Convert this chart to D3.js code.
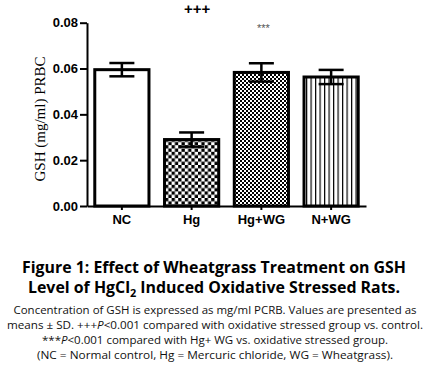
<!DOCTYPE html>
<html>
<head>
<meta charset="utf-8">
<script src="https://cdn.jsdelivr.net/npm/d3@7"></script>
<style>
  body { margin: 0; background: #fff; }
  svg { display: block; }
</style>
</head>
<body>
<svg id="chart" width="430" height="371"></svg>
<script>
// ── data ────────────────────────────────────────────────────────────────────
const groups = ['NC', 'Hg', 'Hg+WG', 'N+WG'];
const means  = [0.0595, 0.029, 0.0583, 0.0563];
const sds    = [0.0029, 0.0031, 0.0040, 0.0031];
const fills  = ['white', 'url(#checkBig)', 'url(#checkSmall)', 'url(#vlines)'];
const yTicks = [0, 0.02, 0.04, 0.06, 0.08];
const marks  = [{ group: 'Hg', text: '+++', value: 0.0838 }, { group: 'Hg+WG', text: '***', value: 0.0760 }];

const svg = d3.select('#chart');

// ── patterns ────────────────────────────────────────────────────────────────
const defs = svg.append('defs');
function checker(id, s) {
  const p = defs.append('pattern').attr('id', id).attr('patternUnits', 'userSpaceOnUse')
    .attr('width', s * 2).attr('height', s * 2);
  p.append('rect').attr('width', s * 2).attr('height', s * 2).attr('fill', 'white');
  p.append('rect').attr('width', s).attr('height', s).attr('fill', 'black');
  p.append('rect').attr('x', s).attr('y', s).attr('width', s).attr('height', s).attr('fill', 'black');
}
checker('checkBig', 3.3);
checker('checkSmall', 2);
const vl = defs.append('pattern').attr('id', 'vlines').attr('patternUnits', 'userSpaceOnUse')
  .attr('width', 4.5).attr('height', 10);
vl.append('rect').attr('width', 4.5).attr('height', 10).attr('fill', 'white');
vl.append('rect').attr('x', 0).attr('width', 1.2).attr('height', 10).attr('fill', 'black');

// ── scales ──────────────────────────────────────────────────────────────────
const x = d3.scaleBand().domain(groups).range([87, 366]).paddingInner(0.18).paddingOuter(0.09);
const y = d3.scaleLinear().domain([0, 0.08]).range([206, 22.7]);

// axes
const yAxis = svg.append('g').attr('transform', 'translate(87,0)')
  .call(d3.axisLeft(y).tickValues(yTicks).tickFormat(d3.format('.2f')).tickSize(7).tickSizeOuter(0));
const xAxis = svg.append('g').attr('transform', 'translate(0,206)')
  .call(d3.axisBottom(x).tickSize(4).tickSizeOuter(0));
[yAxis, xAxis].forEach(a => {
  a.select('.domain').attr('stroke', 'black').attr('stroke-width', 2);
  a.selectAll('.tick line').attr('stroke', 'black').attr('stroke-width', 2);
  a.selectAll('.tick text').attr('fill', 'black')
    .style('font-family', 'Liberation Sans, Arial, sans-serif')
    .style('font-weight', 'bold').style('font-size', '13px');
});
xAxis.selectAll('.tick text').attr('dy', '0.85em');
yAxis.selectAll('.tick text').attr('x', -9);

// bars
const bars = svg.append('g');
bars.selectAll('rect').data(groups).join('rect')
  .attr('x', d => x(d) + 1.5)
  .attr('y', (d, i) => y(means[i]))
  .attr('width', x.bandwidth() - 3)
  .attr('height', (d, i) => y(0) - y(means[i]))
  .attr('fill', (d, i) => fills[i])
  .attr('stroke', 'black').attr('stroke-width', 3);

// error bars
const err = svg.append('g').attr('stroke', 'black').attr('stroke-width', 2.5);
groups.forEach((g, i) => {
  const cx = x(g) + x.bandwidth() / 2, hw = 12.5;
  err.append('line').attr('x1', cx).attr('x2', cx).attr('y1', y(means[i] + sds[i])).attr('y2', y(means[i] - sds[i]));
  err.append('line').attr('x1', cx - hw).attr('x2', cx + hw).attr('y1', y(means[i] + sds[i])).attr('y2', y(means[i] + sds[i]));
  err.append('line').attr('x1', cx - hw).attr('x2', cx + hw).attr('y1', y(means[i] - sds[i])).attr('y2', y(means[i] - sds[i]));
});

// significance marks
svg.append('text').attr('x', x('Hg') + x.bandwidth() / 2 + 5.5).attr('y', y(marks[0].value))
  .attr('text-anchor', 'middle').style('font-family', 'Liberation Sans, Arial, sans-serif')
  .style('font-size', '15px').style('font-weight', 'bold').text(marks[0].text);
svg.append('text').attr('x', x('Hg+WG') + x.bandwidth() / 2 + 2).attr('y', y(marks[1].value))
  .attr('text-anchor', 'middle').attr('fill', '#555').style('font-family', 'Liberation Sans, Arial, sans-serif')
  .style('font-size', '11px').text(marks[1].text);

// y label
svg.append('text').attr('transform', 'translate(45,119) rotate(-90)')
  .attr('text-anchor', 'middle').style('font-family', 'Liberation Serif, Times New Roman, serif')
  .style('font-size', '15px').text('GSH (mg/ml) PRBC');

// ── caption ─────────────────────────────────────────────────────────────────
const cap = svg.append('g').style('font-family', 'Open Sans, sans-serif').attr('text-anchor', 'middle');
cap.append('text').attr('x', 214).attr('y', 273).attr('textLength', 384).attr('lengthAdjust', 'spacingAndGlyphs')
  .style('font-size', '16px').style('font-weight', 'bold')
  .text('Figure 1: Effect of Wheatgrass Treatment on GSH');
const t2 = cap.append('text').attr('x', 214).attr('y', 293).attr('textLength', 372).attr('lengthAdjust', 'spacingAndGlyphs')
  .style('font-size', '16px').style('font-weight', 'bold');
t2.append('tspan').text('Level of HgCl');
t2.append('tspan').attr('dy', 4).style('font-size', '11px').text('2');
t2.append('tspan').attr('dy', -4).text(' Induced Oxidative Stressed Rats.');

const capLines = [
  { y: 314, w: 403, parts: [['Concentration of GSH is expressed as mg/ml PCRB. Values are presented as', false]] },
  { y: 329, w: 416, parts: [['means ± SD. +++', false], ['P', true], ['<0.001 compared with oxidative stressed group vs. control.', false]] },
  { y: 344, w: 346, parts: [['***', false], ['P', true], ['<0.001 compared with Hg+ WG vs. oxidative stressed group.', false]] },
  { y: 359, w: 356, parts: [['(NC = Normal control, Hg = Mercuric chloride, WG = Wheatgrass).', false]] }
];
capLines.forEach(l => {
  const t = cap.append('text').attr('x', 215).attr('y', l.y).attr('textLength', l.w)
    .attr('lengthAdjust', 'spacingAndGlyphs').style('font-size', '11px').attr('fill', '#111');
  l.parts.forEach(([s, it]) => t.append('tspan').style('font-style', it ? 'italic' : 'normal').text(s));
});
</script>
</body>
</html>
